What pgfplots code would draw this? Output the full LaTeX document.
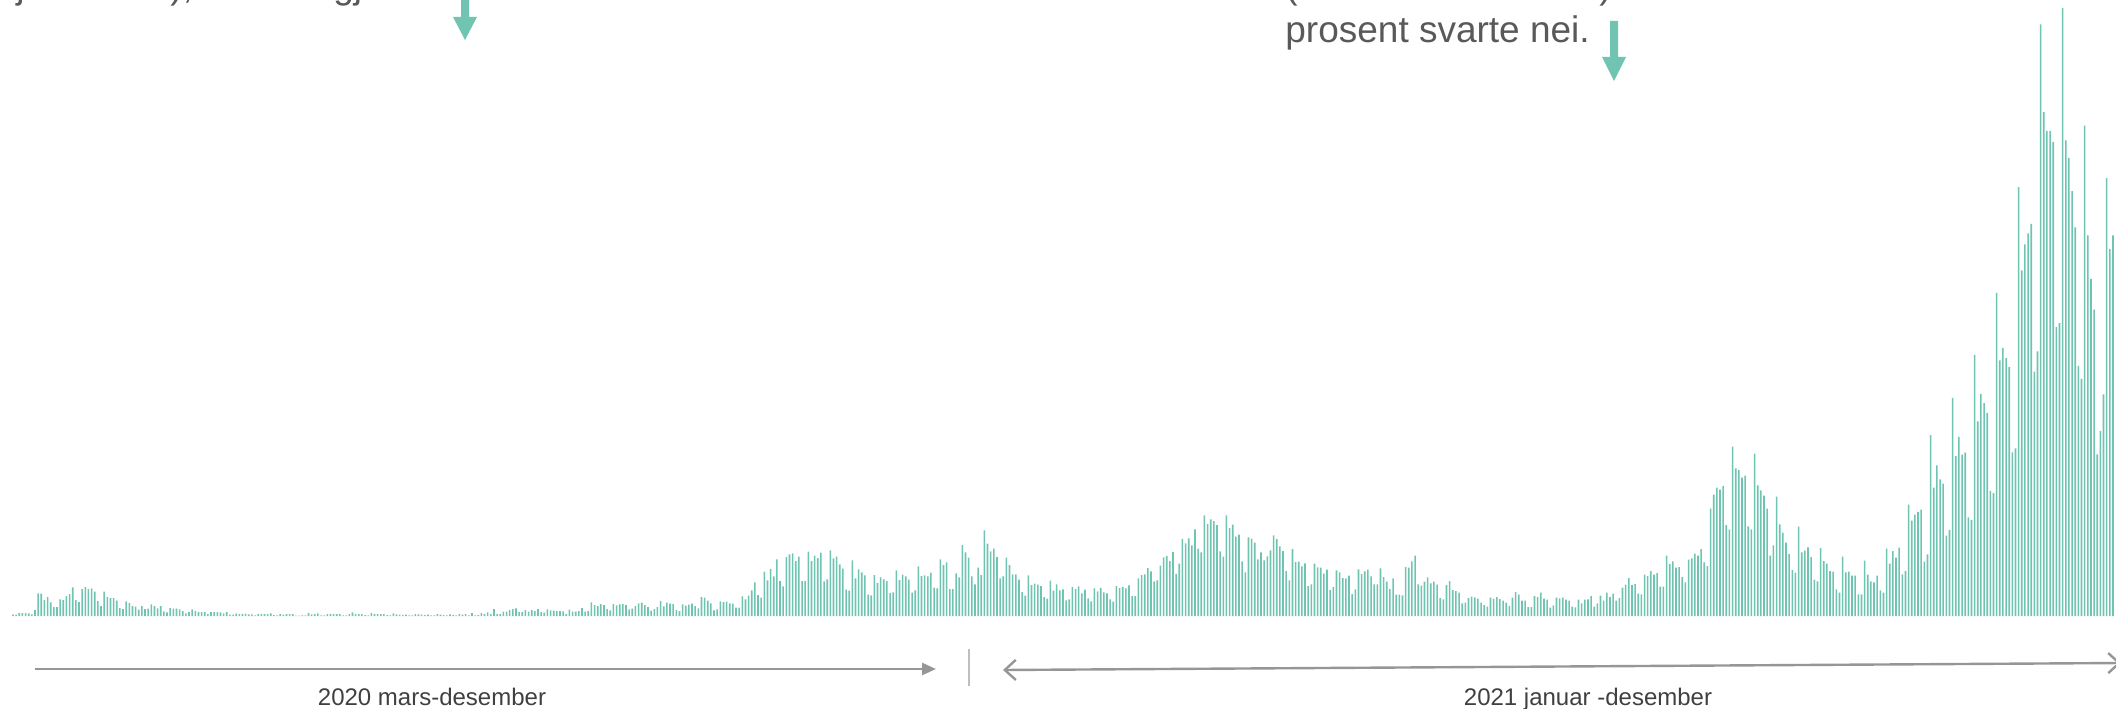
\documentclass[border=0pt]{standalone}
\usepackage{pgfplots}
\pgfplotsset{compat=1.18}
\usepackage{pgfplotstable}
\usetikzlibrary{arrows.meta}
\usepackage{fontspec}
\setmainfont{Liberation Sans}
\definecolor{barc}{RGB}{110,196,176}
\definecolor{arrc}{RGB}{114,196,178}
\definecolor{txt}{RGB}{89,89,89}
\definecolor{lab}{RGB}{64,64,64}
\definecolor{lin}{RGB}{150,150,150}
\definecolor{sep}{RGB}{190,190,190}

\pgfplotstableread[row sep=\\]{h\\
1.3\\1.3\\3\\3\\3\\2.7\\1.7\\6\\22.7\\22.3\\
16\\19\\13.7\\9\\9\\16.7\\16\\20\\22\\28.7\\
16\\14\\27\\29\\27\\27.7\\24.3\\15\\10\\24.3\\
19\\18\\18\\15.3\\8\\7\\14.7\\13\\10\\9.3\\
6.3\\10\\7\\7.3\\11.7\\10\\7.7\\10\\4.7\\3.7\\
8\\7.3\\7.3\\6.7\\5\\2.7\\4\\6.7\\5\\4\\
4\\4\\2\\4\\4\\4\\3.7\\2.7\\4\\1.3\\
1.3\\2.3\\2\\2\\2.3\\1.7\\1.7\\0.7\\2\\2\\
2\\2\\2.7\\1\\0.7\\2\\1.3\\2\\2\\2\\
0.5\\0.5\\0.7\\0.7\\3\\1.7\\2\\2.7\\0.7\\0.7\\
2\\2\\2\\2\\2\\0.7\\0.7\\2\\3.7\\2\\
2\\2\\1\\0.7\\3\\2\\2\\2\\2\\1\\
0.7\\2.7\\1.7\\1.3\\1\\1.3\\0.7\\0.7\\2\\1.7\\
1.3\\1\\1.3\\0.7\\0.7\\2\\1.3\\1\\0.7\\1.7\\
1\\0.7\\2\\1.3\\2\\0.7\\3\\0.7\\1\\3\\
2\\3.7\\2\\7\\2\\2\\4.3\\4.3\\6\\7\\
7.7\\4\\4\\6\\4.3\\6\\5\\7\\4\\3.3\\
6.7\\5.7\\5.3\\5\\5\\4.7\\2\\6.3\\4.3\\4.3\\
5\\8\\4.3\\5\\13.7\\11\\10\\12\\11\\7\\
5.7\\12\\10.7\\11.7\\12\\11\\6.7\\7.3\\10\\12.7\\
13.3\\11\\9\\5.3\\7\\9\\15\\9.7\\13.3\\12.3\\
12\\6\\5\\11.7\\10.3\\11.3\\12.3\\10\\7.7\\19\\
18.3\\15.3\\12.7\\5.7\\6.7\\14.7\\14\\14.3\\12.7\\12.3\\
8.3\\8.3\\19.7\\16.7\\20.3\\25.7\\33.7\\21\\18.3\\44.3\\
35.7\\47\\39.7\\56.7\\35\\29.7\\59\\61.7\\62.7\\55\\
59.3\\35\\35\\64.3\\55\\60.3\\58\\63.3\\34.7\\36.7\\
65.7\\57.7\\59.3\\51.7\\47.3\\26.3\\25.3\\55.7\\37.7\\46.7\\
43.7\\40.7\\21.3\\20.7\\41\\33\\38.7\\36.7\\35\\23\\
23.7\\45.7\\36\\41.3\\39.7\\36.3\\23.3\\25.7\\49.7\\40\\
40.7\\39.7\\43.3\\28.3\\27.7\\56.7\\51\\53.7\\27\\27\\
42.7\\38.7\\71\\63.7\\58.3\\39.7\\31.7\\48.3\\41\\85.7\\
72.3\\64.7\\67.3\\59\\37.7\\39.7\\58.3\\51\\41.7\\41.7\\
36.3\\24\\20.3\\40.7\\31\\32.3\\31.3\\30\\19\\17.3\\
35.3\\25.3\\31.7\\25.7\\26.7\\15.7\\16.7\\29\\27\\29.7\\
22.7\\26.3\\17.7\\14.7\\27.7\\24.7\\28\\23.7\\22.7\\16.7\\
14.3\\30\\28\\29\\27.7\\30.7\\20\\20\\37.7\\41\\
41.7\\48\\44.7\\34.7\\35.7\\50.3\\58.7\\60\\55\\64\\
42\\52.3\\77\\72.7\\77.7\\70.7\\86.7\\67.3\\63.7\\100.7\\
92\\96.7\\95\\91\\64.7\\59.3\\100.7\\88\\91.3\\79.3\\
81.3\\54.7\\43.7\\78.7\\77.3\\73.3\\56.7\\63.7\\55.7\\59.7\\
65.7\\80.7\\77\\69.7\\65\\45\\35.7\\67\\54\\54.3\\
49.7\\52.7\\30\\31.7\\52.3\\48.7\\48.3\\42.3\\46.3\\26\\
29\\45.7\\43.7\\38\\37.7\\40.3\\22\\26.7\\46.7\\42\\
44.7\\46.3\\39.7\\31.7\\31.7\\47.7\\39\\34.3\\27\\37.7\\
21.3\\21.3\\20.6\\
49\\48.3\\54.7\\60.3\\31.7\\30.3\\34.3\\38.7\\32.7\\34.3\\
31.3\\18\\16.7\\31\\35\\26\\25\\23.3\\12.7\\13.3\\
18\\19.3\\18.7\\17.3\\13.3\\11\\9.3\\18.3\\17.3\\19\\
17\\15.3\\13.3\\10\\18.3\\24\\21.3\\15.3\\15.3\\9\\
9\\20\\19\\23.3\\17.3\\16.3\\8.3\\10.7\\18.3\\17.7\\
18.3\\16.3\\15.3\\9.3\\8.7\\16.3\\12.7\\16.3\\16.7\\20\\
9.3\\12.7\\20.3\\15.3\\23.3\\19\\22.3\\15.3\\18\\28.3\\
31.3\\38\\31\\32\\22.3\\21.7\\41.3\\40\\45\\41.3\\
43\\29.3\\29.3\\60.3\\52\\54.7\\48.3\\49\\39\\33.7\\
56.3\\57.7\\62.3\\60.3\\67\\53.7\\50\\107.3\\121.3\\128.3\\
126.3\\130\\91\\86.3\\169.3\\147.7\\146\\138.3\\140.3\\89.7\\
86.7\\162.3\\130.7\\125.7\\120.3\\107.3\\60.3\\70.7\\119.3\\91.7\\
83.3\\73.3\\62\\46\\43.3\\89.3\\63.7\\65.3\\68.7\\59\\
36.3\\34.7\\68\\55\\52.3\\45\\44.3\\26.7\\23.3\\59.3\\
43.7\\44.3\\40.3\\40.3\\21.7\\21.7\\55.3\\41.3\\34.7\\33.7\\
40.3\\25.7\\23.3\\67.3\\52.3\\65\\58.3\\68.3\\
41.7\\44.9\\111.3\\95.4\\101.3\\104.1\\106.5\\54.4\\61.6\\180.8\\
128.4\\150.6\\136.7\\132.3\\80.3\\86.2\\218.2\\159.8\\179.2\\161.3\\
163.3\\98.6\\96.2\\261.1\\194.7\\222.1\\213\\203.1\\125.2\\122.8\\
323.1\\255.5\\268.2\\257.9\\248.8\\163.7\\167.7\\428.8\\345.7\\371.6\\
382.7\\392.2\\244.4\\264.7\\591.7\\503.9\\485.2\\485.2\\474.1\\288.9\\
292.9\\608\\475.7\\458.2\\424.8\\388.7\\250\\237.2\\490.4\\380.7\\
337\\306.4\\161.7\\184.8\\221.7\\437.9\\366.8\\380.7\\
}\dailydata

\begin{document}
\begin{tikzpicture}[x=0.5pt,y=0.5pt]
\useasboundingbox (0,0) rectangle (2116,708);
\clip (0,0) rectangle (2116,708);
\begin{axis}[at={(0,0)}, anchor=south west, width=1058pt, height=354pt,
  scale only axis, xmin=-4.135, xmax=668.954, ymin=-92, ymax=616,
  hide axis, clip=false]
\addplot[ybar, bar width=0.8pt, bar shift=0pt, fill=barc, draw=none]
  table[x expr=\coordindex, y=h] {\dailydata};
\end{axis}
% top texts
\begin{scope}[every node/.style={inner sep=0pt, text=txt, font=\fontsize{18.5pt}{22pt}\selectfont}]
\node[anchor=base west] at (1285,665) {prosent svarte nei.};
\node[anchor=base west] at (1285,709) {(};
\node[anchor=base west] at (1599,709) {)};
\node[anchor=base west] at (16,709) {j};
\node[anchor=base west] at (170,709) {),};
\node[anchor=base west] at (333,709) {gj};
\end{scope}
% teal arrows
\fill[arrc] (461,720) -- (469,720) -- (469,691) -- (477,691) -- (465,668) -- (453,691) -- (461,691) -- cycle;
\fill[arrc] (1610,687) -- (1618,687) -- (1618,651) -- (1626,651) -- (1614,627) -- (1602,651) -- (1610,651) -- cycle;
% bottom arrows
\draw[lin, line width=1.3pt, -{Triangle[length=7pt, width=6pt]}] (35,39) -- (936,39);
\draw[sep, line width=0.7pt] (969,59) -- (969,22);
\draw[lin, line width=1.2pt, {Straight Barb[length=5.5pt, width=10pt, line width=1.2pt]}-{Straight Barb[length=5.5pt, width=10pt, line width=1.2pt]}] (1003,38) -- (2121,45);
\node[anchor=base, inner sep=0pt, text=lab, font=\fontsize{12pt}{14pt}\selectfont] at (432,3) {2020 mars-desember};
\node[anchor=base, inner sep=0pt, text=lab, font=\fontsize{12pt}{14pt}\selectfont] at (1588,3) {2021 januar -desember};
\end{tikzpicture}
\end{document}
